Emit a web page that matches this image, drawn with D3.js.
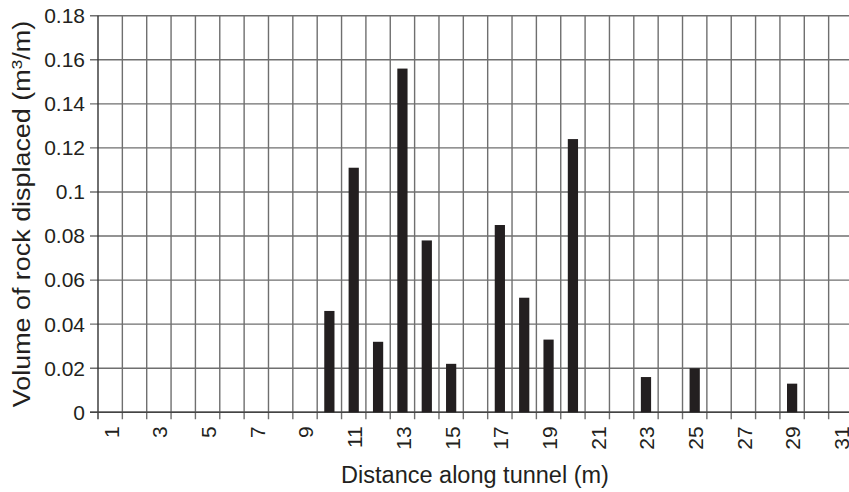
<!DOCTYPE html>
<html>
<head>
<meta charset="utf-8">
<script src="https://cdn.jsdelivr.net/npm/d3@7"></script>
<style>
  body { margin: 0; background: #fff; }
  svg { display: block; font-family: "Liberation Sans", Arial, Helvetica, sans-serif; }
</style>
</head>
<body>
<div id="chart"></div>
<script>
// distance along tunnel (m) and volume of rock displaced (m3/m)
var distances = d3.range(1, 32);
var volumes = [0, 0, 0, 0, 0, 0, 0, 0, 0, 0.046,
               0.111, 0.032, 0.156, 0.078, 0.022, 0, 0.085, 0.052, 0.033, 0.124,
               0, 0, 0.016, 0, 0.020, 0, 0, 0, 0.013, 0, 0];
var yTicks = [0, 0.02, 0.04, 0.06, 0.08, 0.1, 0.12, 0.14, 0.16, 0.18];
var xLabels = distances.filter(function (d) { return d % 2 === 1; });

var chartWidth = 849, chartHeight = 492;
var plotLeft = 98, plotRight = 853, plotTop = 15.7, plotBottom = 412.3;

var svg = d3.select("#chart").append("svg")
    .attr("width", chartWidth)
    .attr("height", chartHeight);

var x = d3.scaleBand()
    .domain(distances)
    .range([plotLeft, plotRight])
    .padding(0);

var y = d3.scaleLinear()
    .domain([0, 0.18])
    .range([plotBottom, plotTop]);

var gridColor = "#6f6f6f";

// horizontal grid lines, with tick stubs on the left
svg.append("g").selectAll("line")
    .data(yTicks)
    .enter().append("line")
    .attr("x1", plotLeft - 8)
    .attr("x2", plotRight)
    .attr("y1", function (d) { return y(d); })
    .attr("y2", function (d) { return y(d); })
    .attr("stroke", gridColor)
    .attr("stroke-width", 1.4);

// vertical grid lines at each category boundary, running down as ticks
var bounds = distances.map(function (d) { return x(d); }).concat([plotRight]);
svg.append("g").selectAll("line")
    .data(bounds)
    .enter().append("line")
    .attr("x1", function (d) { return d; })
    .attr("x2", function (d) { return d; })
    .attr("y1", plotTop)
    .attr("y2", plotBottom + 7)
    .attr("stroke", function (d, i) { return i === 0 ? "#333" : gridColor; })
    .attr("stroke-width", 1.4);

// x axis line
svg.append("line")
    .attr("x1", plotLeft - 8).attr("x2", plotRight)
    .attr("y1", y(0)).attr("y2", y(0))
    .attr("stroke", "#444")
    .attr("stroke-width", 1.4);

// bars
var barW = x.bandwidth() * 0.42;
svg.append("g").selectAll("rect")
    .data(distances.map(function (d, i) { return {d: d, v: volumes[i]}; })
        .filter(function (e) { return e.v > 0; }))
    .enter().append("rect")
    .attr("x", function (e) { return x(e.d) + (x.bandwidth() - barW) / 2; })
    .attr("width", barW)
    .attr("y", function (e) { return y(e.v); })
    .attr("height", function (e) { return y(0) - y(e.v); })
    .attr("fill", "#231f20");

// y tick labels
svg.append("g").selectAll("text")
    .data(yTicks)
    .enter().append("text")
    .attr("x", plotLeft - 13)
    .attr("y", function (d) { return y(d); })
    .attr("dy", "0.35em")
    .attr("text-anchor", "end")
    .attr("font-size", 21)
    .attr("fill", "#231f20")
    .text(function (d) { return d; });

// x tick labels, rotated
svg.append("g").selectAll("text")
    .data(xLabels)
    .enter().append("text")
    .attr("transform", function (d) {
        return "translate(" + (x(d) + x.bandwidth() / 2 + 1) + "," + (plotBottom + 14) + ") rotate(-90)";
    })
    .attr("dy", "0.35em")
    .attr("text-anchor", "end")
    .attr("font-size", 21)
    .attr("fill", "#231f20")
    .text(function (d) { return d; });

// axis titles
svg.append("text")
    .attr("x", 475)
    .attr("y", 483)
    .attr("text-anchor", "middle")
    .attr("font-size", 23.5)
    .attr("fill", "#231f20")
    .text("Distance along tunnel (m)");

var yTitle = svg.append("text")
    .attr("transform", "translate(30," + ((plotTop + plotBottom) / 2) + ") rotate(-90) scale(1.17,1)")
    .attr("text-anchor", "middle")
    .attr("font-size", 23)
    .attr("fill", "#231f20");
yTitle.append("tspan").text("Volume of rock displaced (m");
yTitle.append("tspan").attr("font-size", 15).attr("dy", -8).text("3");
yTitle.append("tspan").attr("dy", 8).text("/m)");
</script>
</body>
</html>
